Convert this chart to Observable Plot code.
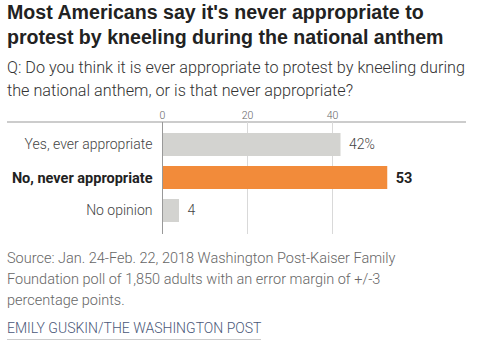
<!DOCTYPE html>
<html>
<head>
<meta charset="utf-8">
<script src="https://cdn.jsdelivr.net/npm/d3@7"></script>
<script src="https://cdn.jsdelivr.net/npm/@observablehq/plot@0.6"></script>
<style>
  html, body { margin: 0; padding: 0; background: #fff; }
  #wrap { width: 478px; height: 350px; position: relative; overflow: hidden; }
  .title { font-family: "Liberation Sans", Arial, sans-serif; font-weight: bold; font-size: 19.6px; line-height: 25px; color: #222; margin: 0 0 0 7px; width: 468px; }
  .sub { font-family: Roboto, "Liberation Sans", sans-serif; font-weight: 300; font-size: 16.2px; line-height: 23px; color: #333; margin: 6px 0 0 7px; width: 462px; }
  .source { font-family: Roboto, "Liberation Sans", sans-serif; font-weight: 300; font-size: 14.5px; line-height: 21px; color: #666; margin: 10px 0 0 7px; width: 400px; }
  .credit { font-family: Roboto, "Liberation Sans", sans-serif; font-weight: 300; font-size: 14px; line-height: 18px; color: #4a5778; margin: 8px 0 0 7px; display: inline-block; border-bottom: 1px solid #ccc; padding-bottom: 2px; }
  #chart svg { display: block; }
</style>
</head>
<body>
<div id="wrap">
  <div class="title">Most Americans say it's never appropriate to protest by kneeling during the national anthem</div>
  <div class="sub">Q: Do you think it is ever appropriate to protest by kneeling during the national anthem, or is that never appropriate?</div>
  <div id="chart"></div>
  <div class="source">Source: Jan. 24-Feb. 22, 2018 Washington Post-Kaiser Family Foundation poll of 1,850 adults with an error margin of +/-3 percentage points.</div>
  <div class="credit">EMILY GUSKIN/THE WASHINGTON POST</div>
</div>
<script>
const categories = ["Yes, ever appropriate", "No, never appropriate", "No opinion"];
const values = [42, 53, 4];
const valueLabels = ["42%", "53", "4"];
const highlight = [false, true, false];
const xTicks = [0, 20, 40];

const data = categories.map((c, i) => ({category: c, value: values[i], label: valueLabels[i], hl: highlight[i]}));

const font = "Roboto, 'Liberation Sans', sans-serif";
const chart = Plot.plot({
  width: 478,
  height: 136,
  marginTop: 20,
  marginBottom: 4,
  marginLeft: 162,
  marginRight: 12,
  style: {fontFamily: font, background: "transparent"},
  x: {domain: [0, 304 / 4.25], axis: null},
  y: {domain: categories, paddingInner: 0.29, paddingOuter: 0.3, axis: null},
  marks: [
    Plot.ruleX(xTicks, {stroke: "#d9d9d9", strokeWidth: 1}),
    Plot.barX(data, {y: "category", x: "value", fill: d => d.hl ? "#f28b3a" : "#d3d3d0"}),
    Plot.ruleX([0], {stroke: "#999", strokeWidth: 1}),
    Plot.text(xTicks, {x: d => d, frameAnchor: "top", dy: -11, text: d => String(d), fill: "#666", fontSize: 10.5, fontWeight: 300}),
    Plot.text(data.filter(d => !d.hl), {y: "category", x: 0, dx: -10, text: "category", textAnchor: "end", fill: "#444", fontSize: 14, fontWeight: 300}),
    Plot.text(data.filter(d => d.hl), {y: "category", x: 0, dx: -10, text: "category", textAnchor: "end", fill: "#222", fontSize: 14.5, fontWeight: "bold"}),
    Plot.text(data.filter(d => !d.hl), {y: "category", x: "value", dx: 8, text: "label", textAnchor: "start", fill: "#444", fontSize: 14, fontWeight: 300}),
    Plot.text(data.filter(d => d.hl), {y: "category", x: "value", dx: 8, text: "label", textAnchor: "start", fill: "#222", fontSize: 14.5, fontWeight: "bold"})
  ]
});
document.getElementById("chart").appendChild(chart);

// top axis line spanning the full chart width, at the top of the plot frame
const yTop = chart.scale("y").range[0];
d3.select(chart).insert("line", ":first-child")
  .attr("x1", 7).attr("x2", 478 - 12)
  .attr("y1", yTop).attr("y2", yTop)
  .attr("stroke", "#bbb").attr("stroke-width", 1.5);
</script>
</body>
</html>
